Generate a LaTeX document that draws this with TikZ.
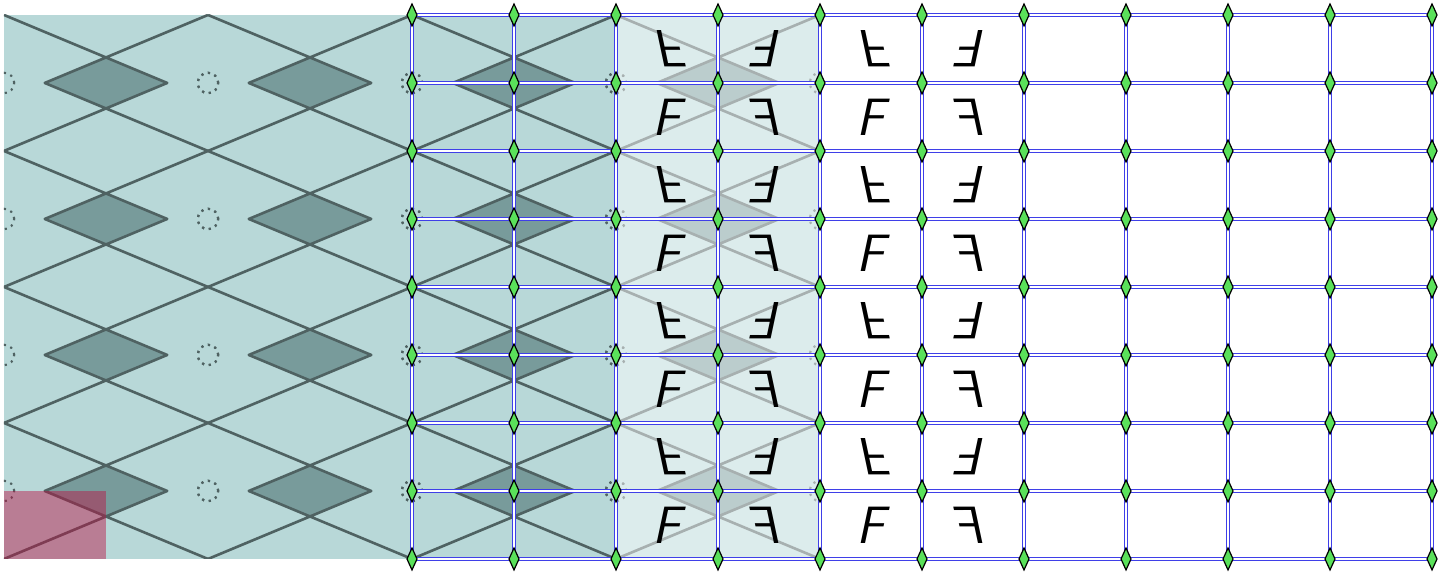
\documentclass[tikz,border=0pt]{standalone}
\usetikzlibrary{shapes.geometric}
\definecolor{tealbg}{HTML}{B8D8D8}
\definecolor{rhomb}{HTML}{789B9B}
\definecolor{slate}{HTML}{4F6262}
\definecolor{patch}{HTML}{BB0F42}
\definecolor{knotgreen}{HTML}{5AE15A}
\definecolor{railblue}{HTML}{2A2AE6}

\newcommand{\wallpaper}[1]{%
  \fill[tealbg!#1!white] (0,0) rectangle (8,8);
  \foreach \cx in {1,3,5,7}{
    \foreach \cy in {1,3,5,7}{
      \fill[rhomb!#1!white] ({\cx-0.6},\cy) -- (\cx,{\cy+0.375}) -- ({\cx+0.6},\cy) -- (\cx,{\cy-0.375}) -- cycle;
      \draw[motif, slate!#1!white] ({\cx-1},{\cy+1}) -- ({\cx+0.6},\cy) -- ({\cx-1},{\cy-1})
        ({\cx+1},{\cy+1}) -- ({\cx-0.6},\cy) -- ({\cx+1},{\cy-1});
      \draw[ring, slate!#1!white] ({\cx-1},\cy) circle[radius=0.15cm] ({\cx+1},\cy) circle[radius=0.15cm];
    }
  }%
}

\begin{document}
\begin{tikzpicture}[x=1.5cm, y=1cm,
  motif/.style={line width=1.1pt, line join=round},
  ring/.style={dotted, line width=0.9pt},
  rail/.style={draw=railblue!90!white, line width=0.55pt, double=white, double distance=0.5pt},
  knot/.style={diamond, draw=black, fill=knotgreen, line width=0.5pt, inner sep=0pt,
               minimum width=4.4pt, minimum height=9.4pt},
  glyph/.style={font=\fontsize{22}{22}\selectfont\sffamily\itshape, inner sep=0pt}
]
  \useasboundingbox (-0.0392,-0.206) rectangle (14.147,8.22);

  \begin{scope}
    \clip (0,0) rectangle (6,8);
    \wallpaper{100}
  \end{scope}
  \begin{scope}
    \clip (6,0) rectangle (8,8);
    \wallpaper{50}
  \end{scope}
  \fill[patch, opacity=0.45] (0,0) rectangle (1,1);

  \foreach \i in {4,...,14}
    \foreach \j in {0,...,8}
      \coordinate (g-\i-\j) at (\i,\j);
  \foreach \i in {4,...,14}
    \draw[rail] (g-\i-0) -- (g-\i-8);
  \foreach \j in {0,...,8}
    \draw[rail] (g-4-\j) -- (g-14-\j);

  \foreach \i in {6,8}
    \foreach \j in {0,2,4,6}{
      \node[glyph] (fa-\i-\j) at (\i+0.5,\j+0.5) {F};
      \node[glyph, xscale=-1] (fb-\i-\j) at (\i+1.5,\j+0.5) {F};
      \node[glyph, yscale=-1] (fc-\i-\j) at (\i+0.5,\j+1.5) {F};
      \node[glyph, rotate=180] (fd-\i-\j) at (\i+1.5,\j+1.5) {F};
    }

  \foreach \i in {4,...,14}
    \foreach \j in {0,...,8}
      \node[knot] (k-\i-\j) at (g-\i-\j) {};
\end{tikzpicture}
\end{document}
